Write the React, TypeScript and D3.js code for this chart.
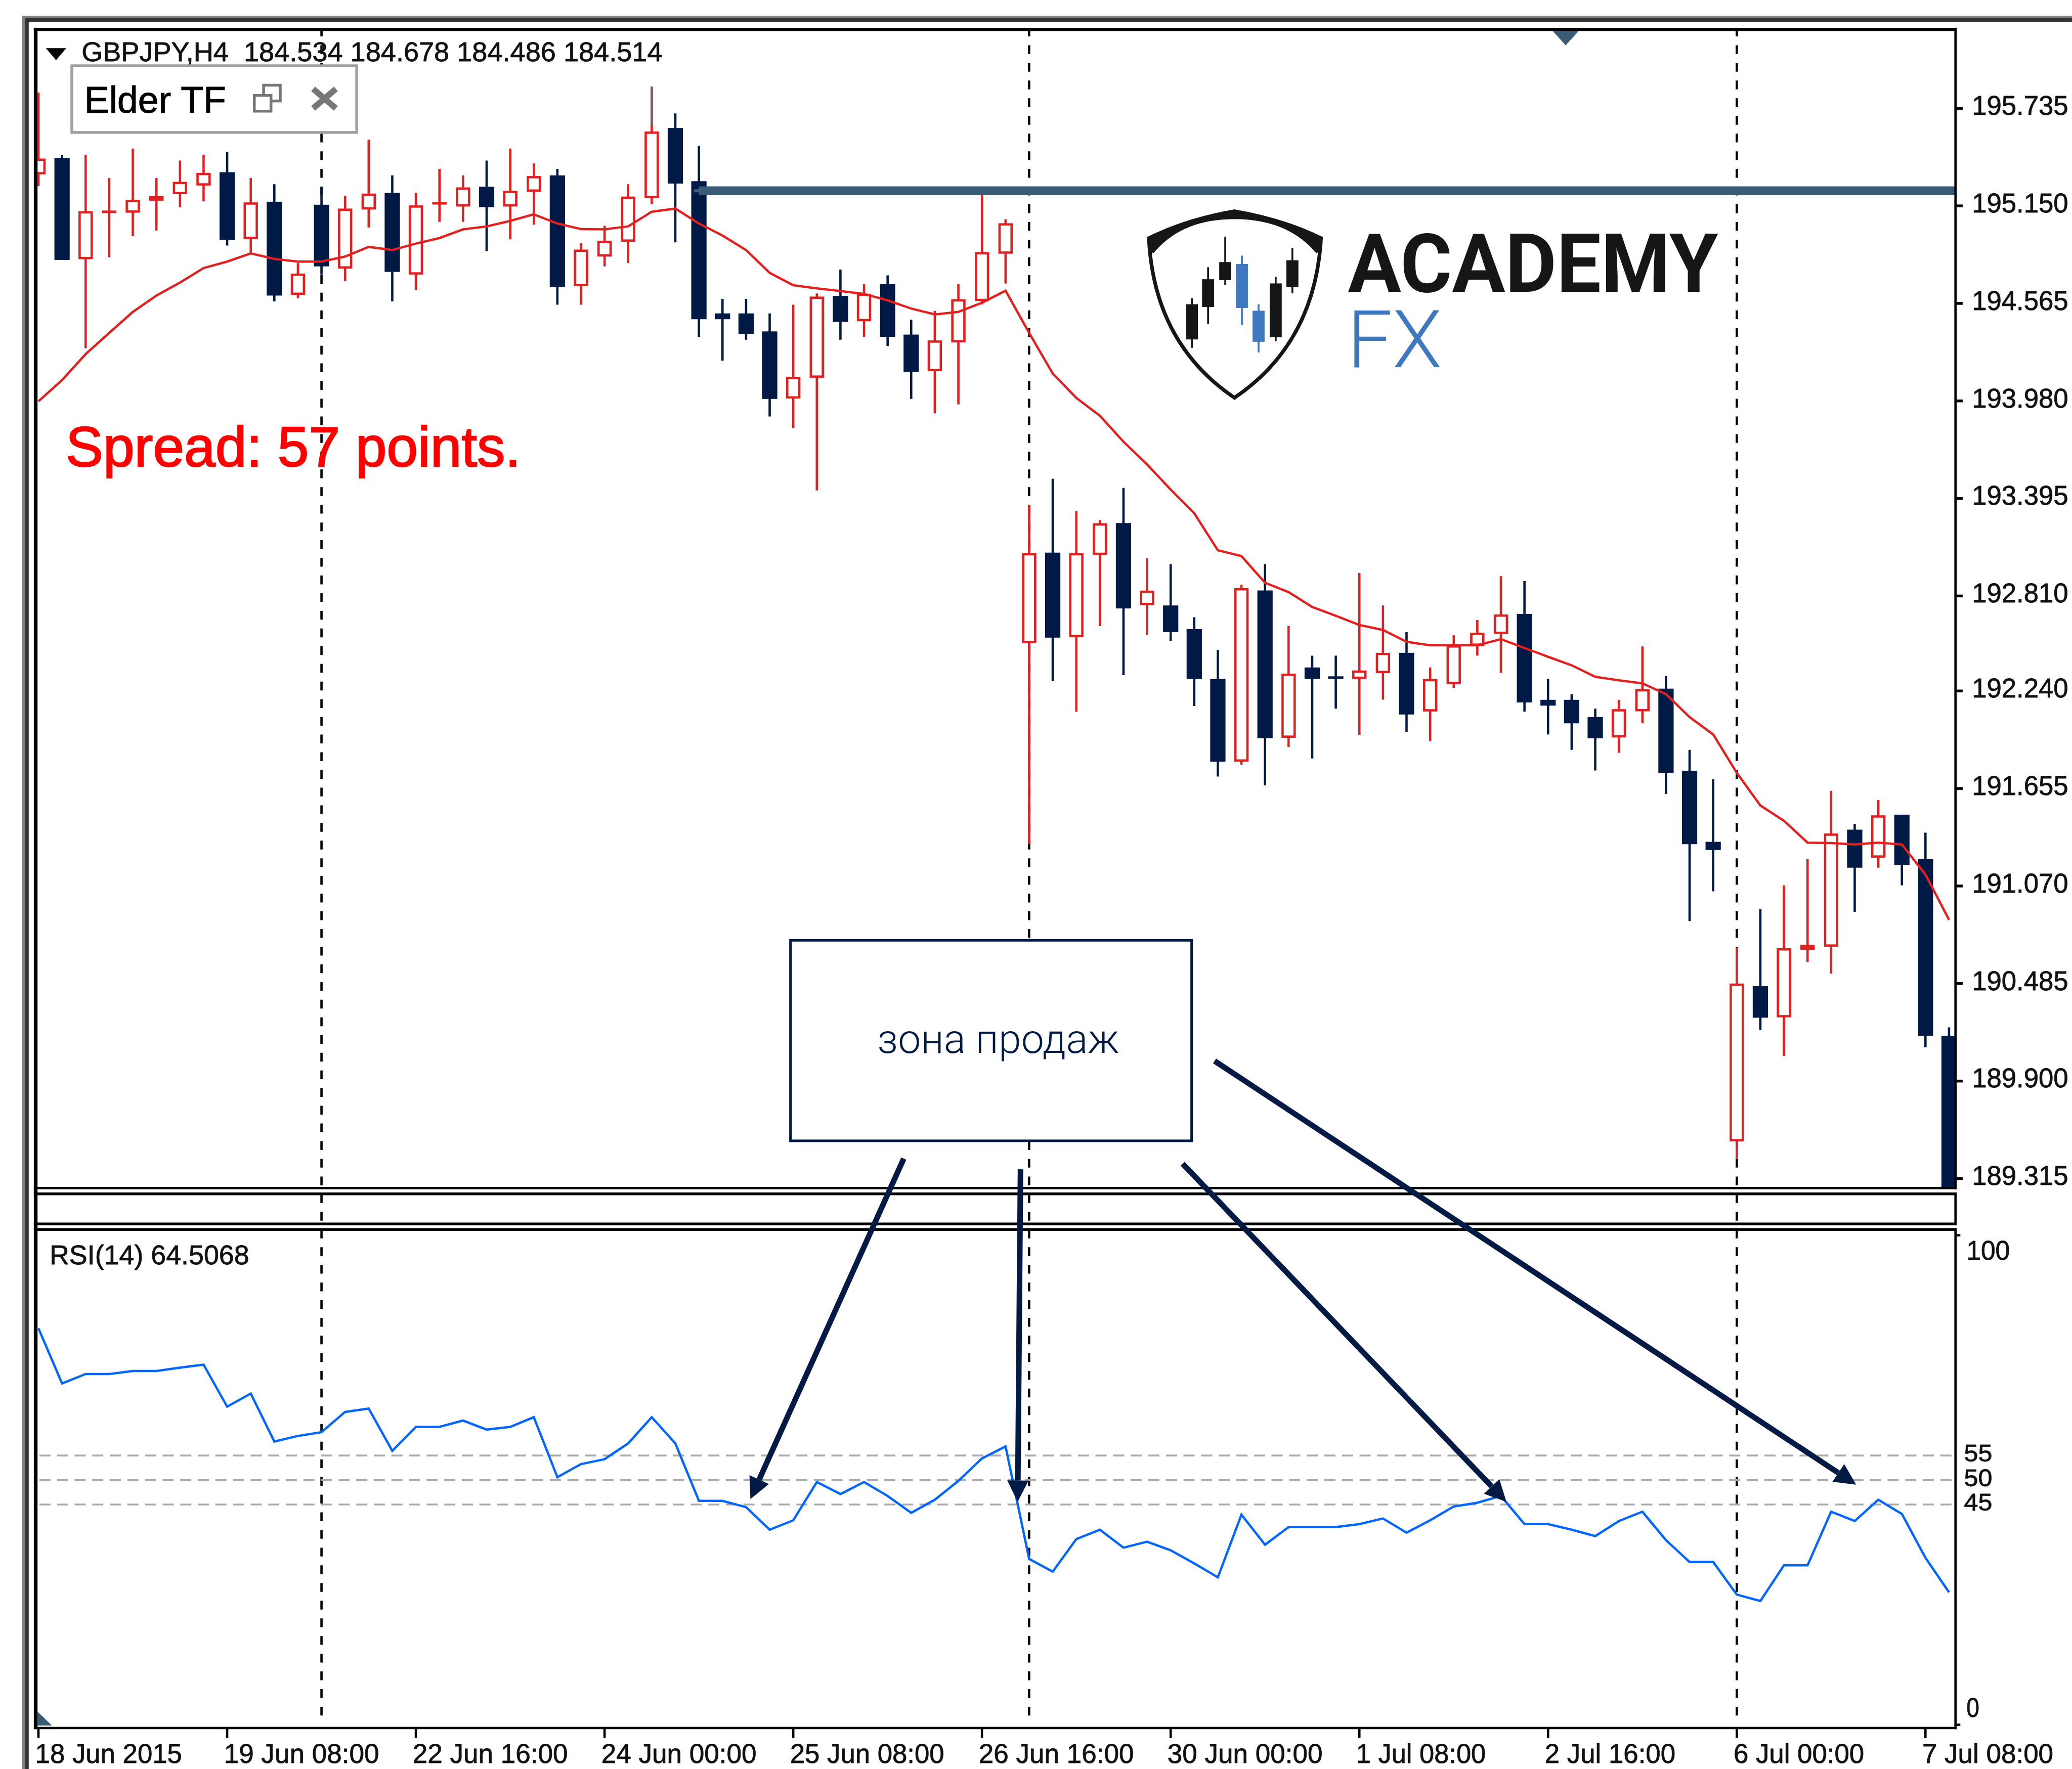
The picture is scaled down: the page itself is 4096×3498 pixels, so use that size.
import React from "react";
import * as d3 from "d3";

const opens = [195.339,195.438,194.830,195.109,195.109,195.181,195.220,195.272,195.352,194.951,195.175,194.616,195.157,194.774,195.128,195.228,194.738,195.161,195.146,195.265,195.146,195.235,195.333,194.668,194.846,194.935,195.196,195.617,195.298,194.505,194.505,194.397,193.994,194.119,194.610,194.458,194.680,194.378,194.158,194.331,194.579,194.863,192.526,193.070,192.562,193.056,193.247,192.755,192.753,192.611,192.312,191.816,192.843,191.959,192.381,192.328,192.312,192.347,192.469,192.117,192.281,192.511,192.582,192.702,192.187,192.187,192.083,191.961,192.118,192.254,191.761,191.335,189.538,190.469,190.282,190.687,190.706,191.408,191.240,191.498,191.231,190.172];
const closes = [195.434,194.826,195.118,195.122,195.187,195.208,195.294,195.348,194.947,195.171,194.612,194.744,194.787,195.134,195.224,194.754,195.153,195.173,195.261,195.142,195.241,195.329,194.664,194.888,194.941,195.206,195.596,195.284,194.470,194.470,194.382,193.992,194.125,194.606,194.454,194.623,194.364,194.154,194.343,194.590,194.873,195.046,193.067,192.560,193.067,193.246,192.735,192.842,192.593,192.312,191.816,192.857,191.957,192.344,192.312,192.312,192.363,192.469,192.099,192.312,192.514,192.590,192.699,192.171,192.152,192.046,191.956,192.131,192.251,191.749,191.321,191.286,190.485,190.280,190.697,190.717,191.385,191.180,191.494,191.196,190.172,189.262];
const highs = [195.830,195.457,195.457,195.317,195.494,195.317,195.422,195.457,195.475,195.317,195.280,194.807,195.265,195.210,195.547,195.333,195.228,195.372,195.333,195.422,195.494,195.405,195.372,194.927,195.031,195.280,195.865,195.705,195.510,194.592,194.592,194.505,194.557,194.625,194.768,194.680,194.733,194.468,194.520,194.680,195.265,195.070,193.354,193.513,193.318,193.265,193.458,193.036,193.001,192.682,192.487,192.877,193.001,192.629,192.452,192.452,192.948,192.753,192.593,192.381,192.574,192.666,192.929,192.899,192.313,192.221,192.134,192.187,192.507,192.330,191.887,191.710,190.699,190.932,191.074,191.231,191.641,191.443,191.586,191.498,191.390,190.222];
const lows = [195.268,194.826,194.296,194.842,194.968,195.002,195.142,195.177,194.912,194.865,194.577,194.596,194.738,194.699,195.021,194.577,194.647,195.054,195.054,194.879,194.949,195.037,194.557,194.557,194.787,194.807,195.161,194.931,194.364,194.222,194.347,193.887,193.817,193.443,194.347,194.364,194.310,193.992,193.906,193.959,194.559,194.684,191.321,192.299,192.115,192.629,192.335,192.576,192.540,192.150,191.727,191.798,191.674,191.904,191.835,192.134,191.977,192.188,191.993,191.940,192.258,192.452,192.349,192.116,191.979,191.887,191.763,191.869,192.046,191.622,190.860,191.038,189.435,190.206,190.050,190.614,190.545,190.915,191.180,191.074,190.103,189.200];
const movingAverage = [193.978,194.105,194.261,194.388,194.514,194.612,194.690,194.777,194.816,194.865,194.832,194.816,194.816,194.846,194.904,194.885,194.924,194.957,195.009,195.027,195.060,195.099,195.044,195.011,195.009,195.027,195.115,195.134,195.044,194.972,194.885,194.748,194.674,194.655,194.639,194.622,194.583,194.534,194.499,194.514,194.569,194.641,194.388,194.144,193.998,193.891,193.735,193.599,193.448,193.306,193.084,193.049,192.889,192.833,192.744,192.691,192.636,192.606,192.535,192.514,192.514,192.514,192.551,192.498,192.445,192.394,192.325,192.304,192.286,192.221,192.083,191.979,191.749,191.553,191.461,191.330,191.328,191.319,191.330,191.319,191.139,190.867];
const rsi = [81.00,69.74,71.66,71.66,72.27,72.27,72.96,73.57,64.99,67.67,57.86,59.01,59.78,63.92,64.61,55.95,60.85,60.85,62.15,60.31,60.85,62.84,50.58,53.26,54.26,57.48,62.84,57.48,45.75,45.75,44.45,39.85,41.77,49.59,47.13,49.59,46.75,43.30,45.98,49.82,54.41,56.87,33.88,31.27,37.94,39.85,36.18,37.40,35.64,32.96,30.12,42.92,36.79,40.39,40.39,40.39,41.00,42.15,39.24,41.77,44.60,45.37,46.75,41.00,41.00,39.85,38.55,41.62,43.53,37.71,33.26,33.26,26.60,25.29,32.57,32.57,43.53,41.62,45.98,43.07,34.11,27.06];
const priceTicks = ["195.735","195.150","194.565","193.980","193.395","192.810","192.240","191.655","191.070","190.485","189.900","189.315"];
const rsiLevels = [55, 50, 45];
const dateLabels = ["18 Jun 2015","19 Jun 08:00","22 Jun 16:00","24 Jun 00:00","25 Jun 08:00","26 Jun 16:00","30 Jun 00:00","1 Jul 08:00","2 Jul 16:00","6 Jul 00:00","7 Jul 08:00"];
const dateLabelWidths = [317,335,335,335,333,335,335,280,282,282,283];
const dashedIndexes = [12, 42, 72];
const resistanceLevel = 195.241;
const resistanceStart = 28;
const logoX = [2573,2608,2645,2681,2717,2754,2790];
const logoHigh = [644,577,511,552,657,598,535];
const logoLow = [751,699,615,702,761,737,633];
const logoTop = [657,603,566,570,671,612,562];
const logoBottom = [733,663,605,665,738,728,620];
const logoBlue = [false,false,false,true,true,false,false];

const NAVY = "#011a45";
const RED = "#e32020";
const BAR = "#395b75";
const FONT = "'Liberation Sans', Arial, sans-serif";

const L = 81, R = 4221, T = 67, B = 2564;

const x = d3.scaleLinear().domain([0, 81]).range([83, 4207.6]);
const y = d3.scaleLinear().domain([195.735, 189.315]).range([234, 2545]);
const yRsi = d3.scaleLinear().domain([100, 0]).range([2667.5, 3724.5]);

const maLine = d3.line<number>().x((_, i) => x(i)).y((d) => y(d)).curve(d3.curveLinear);
const rsiLine = d3.line<number>().x((_, i) => x(i)).y((d) => yRsi(d)).curve(d3.curveLinear);

const arrows: [number, number, number, number][] = [
  [1951, 2502, 1620, 3237],
  [2203, 2525, 2197, 3243],
  [2553, 2513, 3252, 3243],
  [2622, 2291, 4007, 3206],
];

function Arrow({ a }: { a: [number, number, number, number] }) {
  const [x1, y1, x2, y2] = a;
  const len = Math.hypot(x2 - x1, y2 - y1);
  const ux = (x2 - x1) / len, uy = (y2 - y1) / len;
  const hl = 46, hw = 23;
  const bx = x2 - ux * hl, by = y2 - uy * hl;
  const pts = `${x2},${y2} ${bx - uy * hw},${by + ux * hw} ${bx + uy * hw},${by - ux * hw}`;
  return (
    <g>
      <line x1={x1} y1={y1} x2={bx} y2={by} stroke="#021a44" strokeWidth={12} />
      <polygon points={pts} fill="#021a44" />
    </g>
  );
}

function Label({ x: lx, y: ly, w, size, children, fill = "#111", bold = 0.9 }: any) {
  return (
    <text x={lx} y={ly} fontFamily={FONT} fontSize={size} fill={fill} stroke={fill} strokeWidth={bold} textLength={w} lengthAdjust="spacingAndGlyphs">
      {children}
    </text>
  );
}

export default function App() {
  return (
    <svg
      width={4096}
      height={3498}
      viewBox="0 0 4473 3820"
      style={{ position: "absolute", left: 0, top: 0, background: "#fff" }}
    >
      <defs>
        <clipPath id="main"><rect x={L} y={T} width={R - L} height={B - T} /></clipPath>
      </defs>
      <rect width={4473} height={3820} fill="#fff" />

      {/* outer frame */}
      <rect x={48} y={34} width={4425} height={6} fill="#808080" />
      <rect x={54} y={39} width={4419} height={8} fill="#333" />
      <rect x={48} y={34} width={6} height={3786} fill="#808080" />
      <rect x={54} y={39} width={8} height={3781} fill="#333" />

      {/* vertical separators */}
      {dashedIndexes.map((i) => (
        <line key={i} x1={x(i)} x2={x(i)} y1={T} y2={3708} stroke="#000" strokeWidth={5} strokeDasharray="19 19.17" strokeDashoffset={7.5} />
      ))}

      {/* candles */}
      <g clipPath="url(#main)">
        {opens.map((o, i) => {
          const c = closes[i];
          const bull = c > o;
          const col = bull ? RED : NAVY;
          const top = y(Math.max(o, c));
          const bot = y(Math.min(o, c));
          return (
            <g key={i}>
              <line x1={x(i)} x2={x(i)} y1={y(highs[i])} y2={y(lows[i])} stroke={col} strokeWidth={5} />
              {bull ? (
                <rect x={x(i) - 13} y={top + 2.5} width={26} height={Math.max(bot - top - 5, 0.5)} fill={bot - top < 14 ? RED : "#fff"} stroke={RED} strokeWidth={5} />
              ) : (
                <rect x={x(i) - 16.5} y={top} width={33} height={Math.max(bot - top, 5)} fill={NAVY} />
              )}
            </g>
          );
        })}
        <line x1={x(26)} x2={x(26)} y1={y(highs[26])} y2={y(195.635)} stroke="#666" strokeWidth={5} />
        <path d={maLine(movingAverage) ?? ""} fill="none" stroke={RED} strokeWidth={5} />
        <line x1={x(resistanceStart)} x2={R} y1={y(resistanceLevel)} y2={y(resistanceLevel)} stroke={BAR} strokeWidth={19} />
        <line x1={1498} x2={1510} y1={y(resistanceLevel)} y2={y(resistanceLevel)} stroke={BAR} strokeWidth={7} />
      </g>

      {/* top marker */}
      <polygon points="3352,67 3408,67 3380,98" fill={BAR} />

      {/* pane borders */}
      <rect x={73} y={60} width={8} height={3674} fill="#000" />
      <rect x={73} y={60} width={4151} height={7} fill="#000" />
      <rect x={4219} y={60} width={5} height={2508} fill="#000" />
      <rect x={73} y={2563} width={4151} height={5} fill="#000" />
      <rect x={73} y={2575} width={4151} height={6} fill="#000" />
      <rect x={73} y={2640} width={4151} height={6} fill="#000" />
      <rect x={73} y={2652} width={4151} height={6} fill="#000" />
      <rect x={73} y={3729} width={4151} height={5} fill="#000" />
      <rect x={4219} y={2575} width={5} height={71} fill="#000" />
      <rect x={4219} y={2652} width={5} height={1082} fill="#000" />

      {/* price axis */}
      {priceTicks.map((t) => (
        <g key={t}>
          <rect x={4224} y={y(+t) - 3} width={13} height={6} fill="#000" />
          <Label x={4257} y={y(+t) + 14} w={208} size={58}>{t}</Label>
        </g>
      ))}

      {/* date axis */}
      {dateLabels.map((t, i) => (
        <g key={t}>
          <rect x={x(i * 8) - 2.5} y={3733} width={5} height={20} fill="#000" />
          <Label x={x(i * 8) - 7} y={3807} w={dateLabelWidths[i]} size={58}>{t}</Label>
        </g>
      ))}

      {/* RSI */}
      {rsiLevels.map((l) => (
        <line key={l} x1={85} x2={R} y1={yRsi(l)} y2={yRsi(l)} stroke="#aaa" strokeWidth={4} strokeDasharray="24 14" />
      ))}
      <path d={rsiLine(rsi) ?? ""} fill="none" stroke="#0066ff" strokeWidth={5} />
      <Label x={107} y={2730} w={431} size={58}>RSI(14) 64.5068</Label>
      <rect x={4224} y={2665} width={8} height={5} fill="#000" />
      <rect x={4224} y={3722} width={8} height={5} fill="#000" />
      <Label x={4245} y={2720} w={94} size={58}>100</Label>
      {rsiLevels.map((l) => (
        <Label key={l} x={4240} y={yRsi(l) + 13} w={61} size={52}>{l}</Label>
      ))}
      <Label x={4245} y={3708} w={28} size={58}>0</Label>
      <polygon points="81,3696 112,3726 81,3726" fill={BAR} />

      {/* headers */}
      <polygon points="99,104 143,104 121,130" fill="#000" />
      <text x={176} y={132} fontFamily={FONT} fontSize={58} fill="#111" stroke="#111" strokeWidth={0.9} textLength={1254} lengthAdjust="spacingAndGlyphs" xmlSpace="preserve">GBPJPY,H4  184.534 184.678 184.486 184.514</text>
      <rect x={155} y={142} width={615} height={144} fill="#fff" stroke="#a0a0a0" strokeWidth={6} />
      <Label x={182} y={244} w={306} size={80} fill="#000" bold={1.2}>Elder TF</Label>
      <g fill="none" stroke="#777" strokeWidth={6}>
        <rect x={569} y={184} width={36} height={34} />
        <rect x={549} y={206} width={36} height={34} fill="#fff" />
      </g>
      <g stroke="#777" strokeWidth={13}>
        <line x1={676} y1={192} x2={725} y2={234} />
        <line x1={725} y1={192} x2={676} y2={234} />
      </g>
      <Label x={142} y={1007} w={982} size={122} fill="#ff0000" bold={2.5}>Spread: 57 points.</Label>

      {/* logo */}
      <path d="M2478,511 Q2560,470 2665,452 Q2770,470 2854,511 Q2854,540 2842,547 Q2780,473 2665,473 Q2550,473 2490,547 Q2478,540 2478,511Z" fill="#141716" />
      <path d="M2480,511 Q2490,740 2665,859 Q2840,740 2852,511" fill="none" stroke="#141716" strokeWidth={8} />
      {logoX.map((lx, i) => {
        const col = logoBlue[i] ? "#3e79bf" : "#141716";
        return (
          <g key={lx}>
            <rect x={lx - 2} y={logoHigh[i]} width={4} height={logoLow[i] - logoHigh[i]} fill={col} />
            <rect x={lx - 13} y={logoTop[i]} width={26} height={logoBottom[i] - logoTop[i]} fill={col} />
          </g>
        );
      })}
      <text x={2910} y={630} fontFamily="Roboto, sans-serif" fontWeight={700} fontSize={176} fill="#141716" textLength={799} lengthAdjust="spacingAndGlyphs">ACADEMY</text>
      <text x={2908} y={793} fontFamily="Roboto, sans-serif" fontWeight={300} fontSize={172} fill="#3e79bf" textLength={205} lengthAdjust="spacingAndGlyphs">FX</text>

      {/* annotation */}
      <rect x={1706.5} y={2030.5} width={866} height={433} fill="#fff" stroke={NAVY} strokeWidth={5.5} />
      <text x={1894} y={2273.5} fontFamily="Roboto, sans-serif" fontWeight={300} fontSize={87} fill={NAVY} textLength={522} lengthAdjust="spacingAndGlyphs">зона продаж</text>
      {arrows.map((a, i) => <Arrow key={i} a={a} />)}
    </svg>
  );
}
